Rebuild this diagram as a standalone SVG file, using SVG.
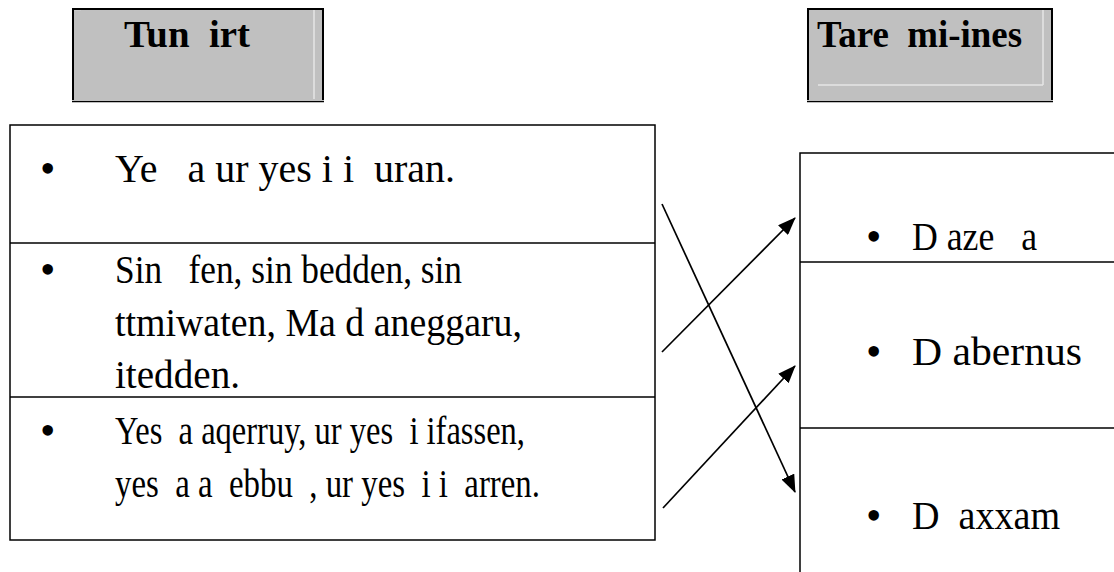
<svg xmlns="http://www.w3.org/2000/svg" width="1114" height="572" viewBox="0 0 1114 572">
<defs>
<style>
.hdr{fill:#c0c0c0}
.hb{fill:none;stroke:#000;stroke-width:2}
.hl{stroke:#e6e6e6;stroke-width:1.5}
.tb{fill:none;stroke:#000;stroke-width:1.5}
.t{font-family:"Liberation Serif","Times New Roman",serif;font-size:39px;fill:#000;white-space:pre}
.b{font-family:"Liberation Serif","Times New Roman",serif;font-size:44px;fill:#000}
.th{font-family:"Liberation Serif","Times New Roman",serif;font-size:38px;font-weight:bold;fill:#000;white-space:pre}
.c{stroke:#000;stroke-width:1.7;fill:none;marker-end:url(#ah)}
</style>
<marker id="ah" viewBox="0 0 18 14" refX="17" refY="7" markerWidth="18" markerHeight="14" markerUnits="userSpaceOnUse" orient="auto">
<path d="M0,0 L18,7 L0,14 Z" fill="#000"/>
</marker>
</defs>

<g id="header-tunirt">
<rect class="hdr" x="72" y="8" width="251" height="92"/>
<line class="hl" x1="314" y1="9" x2="314" y2="99"/>
<line class="hl" x1="73" y1="9.5" x2="81" y2="9.5"/>
<path class="hb" d="M73,100 V9 H323 V100"/>
<line x1="72" y1="101.5" x2="324" y2="101.5" stroke="#000" stroke-width="1.5"/>
<text class="th" x="124" y="47" textLength="126" lengthAdjust="spacingAndGlyphs">Tun  irt</text>
</g>

<g id="header-taremi">
<rect class="hdr" x="807" y="8" width="245" height="92"/>
<line class="hl" x1="818" y1="85" x2="1043" y2="85"/>
<line class="hl" x1="1043" y1="9" x2="1043" y2="85"/>
<path class="hb" d="M808,100 V9 H1052 V100"/>
<line x1="807" y1="101.5" x2="1053" y2="101.5" stroke="#000" stroke-width="1.5"/>
<text class="th" x="817" y="47" textLength="205" lengthAdjust="spacingAndGlyphs">Tare  mi-ines</text>
</g>

<g id="left-table">
<rect class="tb" x="10" y="125" width="645" height="415"/>
<line class="tb" x1="10" y1="243" x2="655" y2="243"/>
<line class="tb" x1="10" y1="397" x2="655" y2="397"/>
</g>

<g id="left-row1">
<text class="b" x="40" y="183">•</text>
<text class="t" x="115" y="182" textLength="340" lengthAdjust="spacingAndGlyphs">Ye   a ur yes i i  uran.</text>
</g>
<g id="left-row2">
<text class="b" x="40" y="284">•</text>
<text class="t" x="115" y="283" textLength="347" lengthAdjust="spacingAndGlyphs">Sin   fen, sin bedden, sin</text>
<text class="t" x="115" y="336" textLength="407" lengthAdjust="spacingAndGlyphs">ttmiwaten, Ma d aneggaru,</text>
<text class="t" x="115" y="388" textLength="125" lengthAdjust="spacingAndGlyphs">itedden.</text>
</g>
<g id="left-row3">
<text class="b" x="40" y="445">•</text>
<text class="t" x="115" y="444" textLength="410" lengthAdjust="spacingAndGlyphs">Yes  a aqerruy, ur yes  i ifassen,</text>
<text class="t" x="115" y="497" textLength="425" lengthAdjust="spacingAndGlyphs">yes  a a  ebbu  , ur yes  i i  arren.</text>
</g>

<g id="right-table">
<path class="tb" d="M800,572 V153 H1114"/>
<line class="tb" x1="800" y1="262" x2="1114" y2="262"/>
<line class="tb" x1="800" y1="428" x2="1114" y2="428"/>
</g>
<g id="right-row1">
<text class="b" x="866" y="251">•</text>
<text class="t" x="912" y="250" textLength="125" lengthAdjust="spacingAndGlyphs">D aze   a</text>
</g>
<g id="right-row2">
<text class="b" x="866" y="366">•</text>
<text class="t" x="912" y="365" textLength="170" lengthAdjust="spacingAndGlyphs">D abernus</text>
</g>
<g id="right-row3">
<text class="b" x="866" y="530">•</text>
<text class="t" x="912" y="529" textLength="148" lengthAdjust="spacingAndGlyphs">D  axxam</text>
</g>

<g id="connectors">
<line class="c" x1="662" y1="204" x2="795" y2="492"/>
<line class="c" x1="662" y1="352" x2="795" y2="218"/>
<line class="c" x1="663" y1="508" x2="795" y2="366"/>
</g>
</svg>
